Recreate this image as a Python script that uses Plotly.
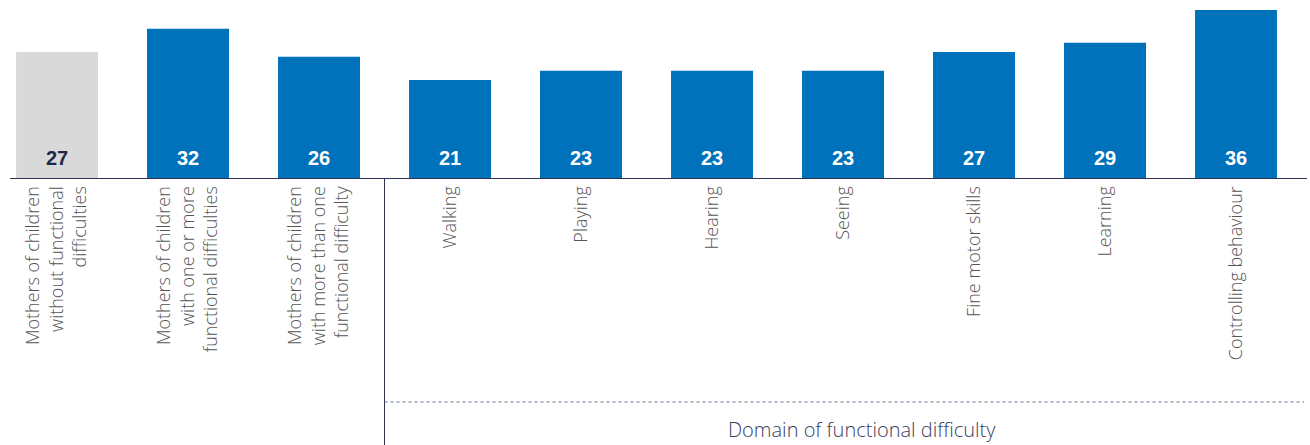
import plotly.graph_objects as go

# Share of mothers (%) by child functional difficulty
categories = [
    "Mothers of children<br>without functional<br>difficulties",
    "Mothers of children<br>with one or more<br>functional difficulties",
    "Mothers of children<br>with more than one<br>functional difficulty",
    "Walking",
    "Playing",
    "Hearing",
    "Seeing",
    "Fine motor skills",
    "Learning",
    "Controlling behaviour",
]
values = [27, 32, 26, 21, 23, 23, 23, 27, 29, 36]
bar_colors = ["#D9D9D9"] + ["#0072BC"] * 9
value_colors = ["#1F2A4A"] + ["#FFFFFF"] * 9

NAVY = "#2B3252"

fig = go.Figure()
fig.add_trace(go.Bar(
    x=categories,
    y=values,
    marker=dict(color=bar_colors, line=dict(width=0)),
    hoverinfo="skip",
))

# Value labels sitting at the base of each bar
for cat, val, col in zip(categories, values, value_colors):
    fig.add_annotation(
        x=cat, y=0, xref="x", yref="y",
        text=f"<b>{val}</b>",
        showarrow=False,
        yanchor="bottom", yshift=7,
        font=dict(family="Liberation Sans, Arial", size=20, color=col),
    )

# Separator between the overall groups and the domains
fig.add_shape(type="line", xref="x", yref="paper",
              x0=2.5, x1=2.5, y0=0, y1=-1.6,
              line=dict(color=NAVY, width=1))
# Dotted bracket line above the domain caption
fig.add_shape(type="line", xref="x", yref="paper",
              x0=2.5, x1=9.52, y0=-1.333, y1=-1.333,
              line=dict(color="#6B7090", width=1, dash="dot"))
fig.add_annotation(
    x=0.657, y=-1.497, xref="paper", yref="paper",
    text="Domain of functional difficulty",
    showarrow=False, xanchor="center", yanchor="middle",
    font=dict(family="Open Sans", size=20, color="#3B4160", weight=300),
)

fig.update_layout(
    width=1310, height=445,
    margin=dict(l=10, r=3, t=10, b=267),
    paper_bgcolor="white", plot_bgcolor="white",
    bargap=0.374,
    showlegend=False,
    xaxis=dict(
        type="category",
        range=[-0.359, 9.542],
        tickangle=-90,
        tickfont=dict(family="Open Sans", size=18, color="#555555", weight=300),
        showline=True, linecolor=NAVY, linewidth=1,
        ticks="", showgrid=False,
    ),
    yaxis=dict(
        range=[0, 36],
        visible=False,
        showgrid=False, zeroline=False,
    ),
)

fig.write_html("out.html")
